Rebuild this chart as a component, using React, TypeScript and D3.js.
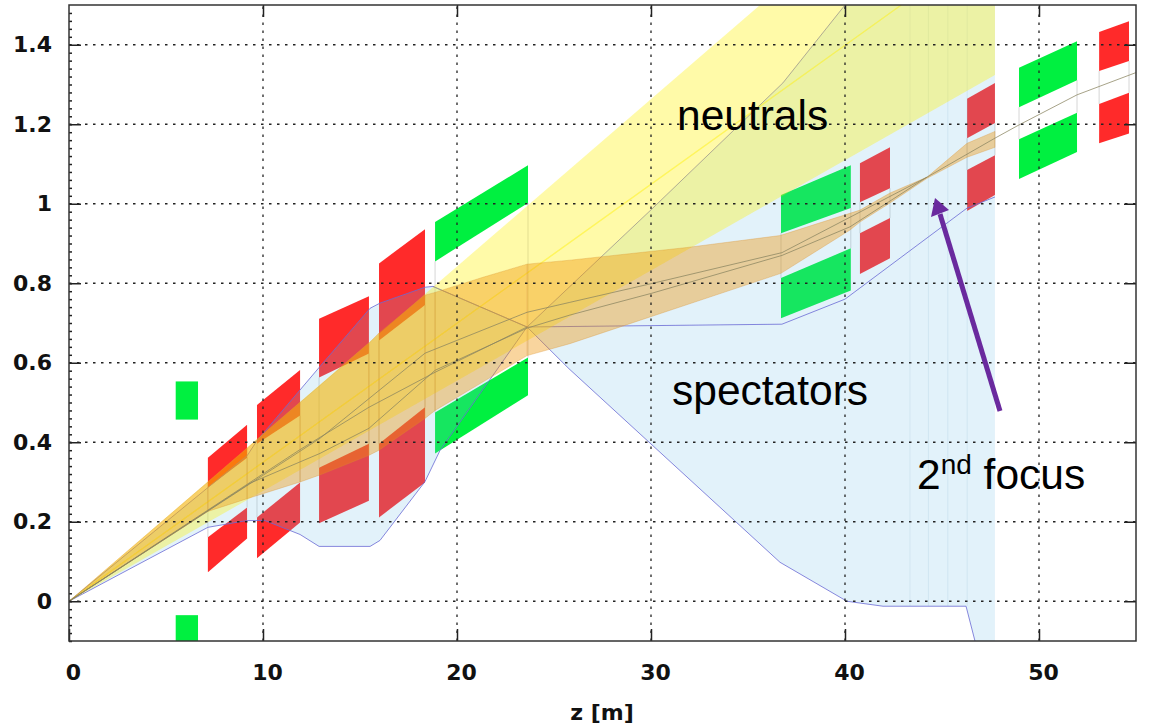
import React, { useEffect, useRef } from 'react';
import * as d3 from 'd3';

type Pt = [number, number];

const xTicks = [0, 10, 20, 30, 40, 50];
const yTicks = [0, 0.2, 0.4, 0.6, 0.8, 1, 1.2, 1.4];

// z0, z1, then y at (top left, bottom left, top right, bottom right), upper jaw then lower jaw
const redMagnets = [
  [7.16, 9.18, 0.361, 0.286, 0.444, 0.361, 0.161, 0.073, 0.236, 0.158],
  [9.69, 11.91, 0.494, 0.396, 0.582, 0.467, 0.211, 0.108, 0.299, 0.198],
  [12.89, 15.46, 0.711, 0.563, 0.767, 0.623, 0.336, 0.196, 0.396, 0.253],
  [15.98, 18.35, 0.85, 0.656, 0.936, 0.745, 0.396, 0.211, 0.488, 0.299],
  [40.77, 42.32, 1.102, 1.004, 1.142, 1.039, 0.926, 0.823, 0.964, 0.863],
  [46.29, 47.73, 1.264, 1.165, 1.304, 1.203, 1.085, 0.982, 1.122, 1.022],
  [53.1, 54.64, 1.432, 1.334, 1.459, 1.359, 1.251, 1.152, 1.279, 1.177],
];
const greenMagnets = [
  [18.87, 23.66, 0.954, 0.855, 1.097, 1.002, 0.475, 0.372, 0.613, 0.518],
  [36.7, 40.3, 1.022, 0.926, 1.097, 0.989, 0.813, 0.712, 0.888, 0.782],
  [48.97, 51.96, 1.342, 1.243, 1.409, 1.311, 1.162, 1.062, 1.229, 1.13],
];
// the small upright pair near z = 6
const greenBlockZ = [5.5, 6.65];
const greenBlockY = [[0.457, 0.553], [-0.1, -0.035]];

const spectatorUpper: Pt[] = [[0, 0], [7.16, 0.286], [9.18, 0.366], [9.69, 0.404], [12.89, 0.588], [15.52, 0.737], [16.03, 0.75], [18.35, 0.79], [18.76, 0.792], [23.61, 0.69], [30.05, 0.987], [36.8, 1.304], [40, 1.5]];
const spectatorFall: Pt[] = [[18.76, 0.792], [23.61, 0.69], [25.77, 0.585], [36.65, 0.098], [40.1, 0], [41.96, -0.0125], [46.24, -0.0125], [46.7, -0.1]];
const spectatorLower: Pt[] = [[0, 0], [7.16, 0.186], [9.18, 0.203], [10.1, 0.203], [11.91, 0.168], [12.89, 0.138], [15.52, 0.138], [16.03, 0.153], [18.35, 0.301], [19.12, 0.379], [23.61, 0.69]];
const spectatorFlat: Pt[] = [[23.61, 0.69], [36.75, 0.697], [40, 0.76], [46.29, 0.989], [47.73, 1.017]];
const spectatorSlices = [43.35, 44.3, 45.3, 46.3];

const neutralBand: Pt[] = [[0, 0], [35.62, 1.5], [47.73, 1.5], [47.73, 1.324]];
const neutralMid: Pt[] = [[0, 0], [42.9, 1.5]];

const beamUpper: Pt[] = [[0, 0], [7.16, 0.3], [9.18, 0.385], [11.91, 0.5], [15.46, 0.649], [15.98, 0.675], [18.35, 0.77], [18.87, 0.777], [21.34, 0.815], [23.61, 0.848], [25.82, 0.858], [31.86, 0.89], [36.65, 0.92], [40.77, 0.984], [42.32, 1.027], [44.23, 1.067], [46.29, 1.152], [47.73, 1.182]];
const beamLower: Pt[] = [[0, 0], [7.16, 0.226], [9.18, 0.258], [11.91, 0.3], [12.89, 0.317], [15.46, 0.367], [15.98, 0.38], [18.35, 0.46], [18.87, 0.48], [23.61, 0.618], [25.82, 0.648], [36.7, 0.825], [40.26, 0.934], [40.77, 0.954], [42.32, 1.002], [44.23, 1.064], [46.29, 1.117], [47.73, 1.142]];
const beamSlices = [7.16, 9.18, 11.91, 15.46, 15.98, 18.35, 18.87, 23.61];

const rayA: Pt[] = [[0, 0], [11.86, 0.38], [15.46, 0.488], [18.87, 0.576], [23.61, 0.69]];
const rayB: Pt[] = [[0, 0], [9.33, 0.297], [12.94, 0.372], [15.46, 0.435], [18.45, 0.563], [18.87, 0.581], [23.61, 0.687], [25.82, 0.72], [30.05, 0.775], [36.75, 0.87], [40.26, 0.942], [44.23, 1.067], [47.73, 1.165], [48.92, 1.197], [51.96, 1.274], [55, 1.33]];
const rayC: Pt[] = [[0, 0], [12.94, 0.41], [18.35, 0.624], [23.61, 0.727], [25.82, 0.752], [30.1, 0.8], [36.75, 0.877], [44.23, 1.067]];

const width = 1150;
const height = 728;
const margin = { top: 5, right: 14, bottom: 87, left: 69 };

const App = () => {
  const ref = useRef<SVGSVGElement>(null);

  useEffect(() => {
    const svg = d3.select(ref.current);
    svg.selectAll('*').remove();

    const x = d3.scaleLinear().domain([0, 55]).range([margin.left, width - margin.right]);
    const y = d3.scaleLinear().domain([-0.1, 1.5]).range([height - margin.bottom, margin.top]);
    const line = d3.line<Pt>().x(d => x(d[0])).y(d => y(d[1]));

    const defs = svg.append('defs');
    defs.append('clipPath').attr('id', 'plot')
      .append('rect')
      .attr('x', x(0)).attr('y', y(1.5))
      .attr('width', x(55) - x(0)).attr('height', y(-0.1) - y(1.5));
    // the source is a soft screenshot
    defs.append('filter').attr('id', 'soft')
      .append('feGaussianBlur').attr('stdDeviation', 0.45);

    const plot = svg.append('g').attr('clip-path', 'url(#plot)')
      .append('g').attr('filter', 'url(#soft)');

    const drawMagnet = (m: number[], color: string) => {
      const [z0, z1, a, b, c, d, e, f, g, h] = m;
      const upper: Pt[] = [[z0, a], [z1, c], [z1, d], [z0, b]];
      const lower: Pt[] = [[z0, e], [z1, g], [z1, h], [z0, f]];
      plot.append('path').attr('d', line(upper) + 'Z').attr('fill', color);
      plot.append('path').attr('d', line(lower) + 'Z').attr('fill', color);
      // thin edges joining the two jaws
      [[z0, b, e], [z1, d, g]].forEach(([zz, y0, y1]) => {
        plot.append('line')
          .attr('x1', x(zz)).attr('x2', x(zz))
          .attr('y1', y(y0)).attr('y2', y(y1))
          .attr('stroke', '#999').attr('stroke-opacity', 0.4).attr('stroke-width', 1);
      });
    };
    redMagnets.forEach(m => drawMagnet(m, '#ff2a2a'));
    greenMagnets.forEach(m => drawMagnet(m, '#00f040'));
    greenBlockY.forEach(([lo, hi]) => {
      plot.append('rect')
        .attr('x', x(greenBlockZ[0])).attr('width', x(greenBlockZ[1]) - x(greenBlockZ[0]))
        .attr('y', y(hi)).attr('height', y(lo) - y(hi))
        .attr('fill', '#00f040');
    });

    // spectators
    const spectators: Pt[] = [
      ...spectatorUpper,
      [47.73, 1.5], [47.73, -0.1],
      ...spectatorFall.slice(2).reverse(),
      ...spectatorLower.slice().reverse(),
    ];
    plot.append('path').attr('d', line(spectators) + 'Z')
      .attr('fill', '#6cc0e8').attr('fill-opacity', 0.2);
    spectatorSlices.forEach(z => {
      plot.append('line')
        .attr('x1', x(z)).attr('x2', x(z)).attr('y1', y(1.5)).attr('y2', y(-0.012))
        .attr('stroke', '#9cc4d8').attr('stroke-opacity', 0.25);
    });
    [spectatorUpper, spectatorFall, spectatorLower, spectatorFlat].forEach(s => {
      plot.append('path').attr('d', line(s))
        .attr('fill', 'none').attr('stroke', '#6a6ad4').attr('stroke-opacity', 0.8).attr('stroke-width', 1);
    });

    // neutrals
    plot.append('path').attr('d', line(neutralBand) + 'Z')
      .attr('fill', '#fff000').attr('fill-opacity', 0.34);
    plot.append('path').attr('d', line(neutralMid))
      .attr('fill', 'none').attr('stroke', '#fff000').attr('stroke-opacity', 0.45).attr('stroke-width', 1.5);

    // beam envelope
    plot.append('path').attr('d', line([...beamUpper, ...beamLower.slice().reverse()]) + 'Z')
      .attr('fill', '#f09000').attr('fill-opacity', 0.38)
      .attr('stroke', '#d89030').attr('stroke-opacity', 0.4).attr('stroke-width', 0.8);
    const upperAt = d3.scaleLinear().domain(beamUpper.map(d => d[0])).range(beamUpper.map(d => d[1]));
    const lowerAt = d3.scaleLinear().domain(beamLower.map(d => d[0])).range(beamLower.map(d => d[1]));
    beamSlices.forEach(z => {
      plot.append('line')
        .attr('x1', x(z)).attr('x2', x(z))
        .attr('y1', y(upperAt(z))).attr('y2', y(lowerAt(z)))
        .attr('stroke', '#d89030').attr('stroke-opacity', 0.35);
    });

    [rayA, rayB, rayC].forEach(r => {
      plot.append('path').attr('d', line(r))
        .attr('fill', 'none').attr('stroke', '#8a8460').attr('stroke-opacity', 0.75).attr('stroke-width', 1);
    });

    // grid
    const grid = svg.append('g')
      .attr('stroke', '#222').attr('stroke-width', 1.3).attr('stroke-dasharray', '2.5 5.5');
    xTicks.slice(1).forEach(t => {
      grid.append('line').attr('x1', x(t)).attr('x2', x(t)).attr('y1', y(-0.1)).attr('y2', y(1.5));
    });
    yTicks.forEach(t => {
      grid.append('line').attr('x1', x(0)).attr('x2', x(55)).attr('y1', y(t)).attr('y2', y(t));
    });

    // axes
    const font = '"DejaVu Sans", sans-serif';
    const xAxis = svg.append('g').attr('transform', `translate(0,${y(-0.1)})`)
      .call(d3.axisBottom(x).tickValues(xTicks).tickFormat(d3.format('d')).tickSize(-12).tickPadding(23));
    xAxis.selectAll('text').attr('dx', 4);
    const yAxis = svg.append('g').attr('transform', `translate(${x(0)},0)`)
      .call(d3.axisLeft(y).tickValues(yTicks).tickFormat(d => String(d)).tickSize(-12).tickPadding(17));
    const topAxis = svg.append('g').attr('transform', `translate(0,${y(1.5)})`)
      .call(d3.axisTop(x).tickValues(xTicks.slice(1)).tickFormat(() => '').tickSize(-12));
    const rightAxis = svg.append('g').attr('transform', `translate(${x(55)},0)`)
      .call(d3.axisRight(y).tickValues(yTicks).tickFormat(() => '').tickSize(-12));
    const minorAxis = svg.append('g').attr('transform', `translate(${x(0)},0)`)
      .call(d3.axisLeft(y).tickValues(d3.range(-5, 75).map(i => i * 0.02)).tickFormat(() => '').tickSize(-3));
    [xAxis, yAxis, topAxis, rightAxis, minorAxis].forEach(a => {
      a.select('.domain').remove();
      a.selectAll('line').attr('stroke', '#222').attr('stroke-width', 1.5);
      a.selectAll('text')
        .attr('fill', '#111')
        .style('font-family', font).style('font-size', '22px').style('font-weight', 700);
    });

    svg.append('rect')
      .attr('x', x(0)).attr('y', y(1.5))
      .attr('width', x(55) - x(0)).attr('height', y(-0.1) - y(1.5))
      .attr('fill', 'none').attr('stroke', '#333').attr('stroke-width', 1.5);

    svg.append('text')
      .attr('x', 602).attr('y', 720)
      .attr('text-anchor', 'middle')
      .style('font-family', font).style('font-size', '22px').style('font-weight', 700)
      .attr('fill', '#111')
      .text('z [m]');

    // annotations
    const note = '"Liberation Sans", sans-serif';
    svg.append('text').attr('x', 677).attr('y', 130)
      .style('font-family', note).style('font-size', '42.5px').text('neutrals');
    svg.append('text').attr('x', 672).attr('y', 405)
      .style('font-family', note).style('font-size', '42.5px').text('spectators');
    const focus = svg.append('text').attr('x', 917).attr('y', 489)
      .style('font-family', note).style('font-size', '42.5px');
    focus.append('tspan').text('2');
    focus.append('tspan').attr('dy', -15).style('font-size', '28px').text('nd');
    focus.append('tspan').attr('dy', 15).text(' focus');

    svg.append('line')
      .attr('x1', 1000).attr('y1', 411).attr('x2', 940).attr('y2', 214)
      .attr('stroke', '#6a2a9e').attr('stroke-width', 5);
    svg.append('path')
      .attr('d', 'M935,198L931,217L949,210Z')
      .attr('fill', '#6a2a9e');
  }, []);

  return (
    <svg
      ref={ref}
      width={width}
      height={height}
      style={{ position: 'absolute', left: 0, top: 0, background: '#fff' }}
    />
  );
};

export default App;
